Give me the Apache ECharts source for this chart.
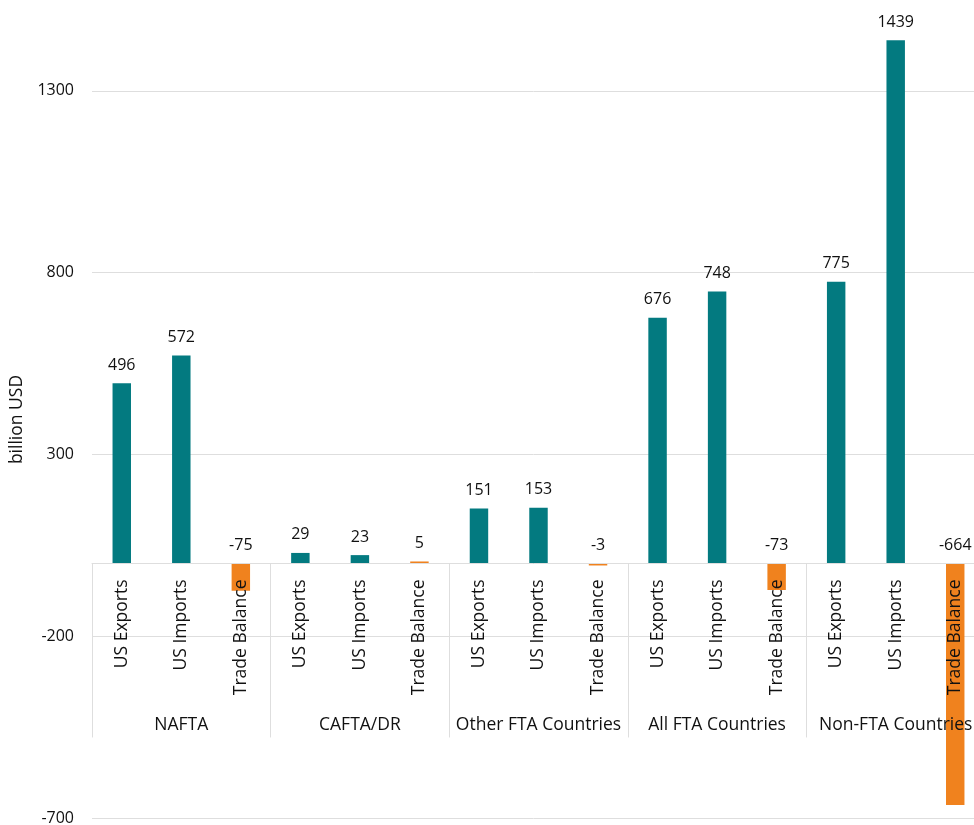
<!DOCTYPE html>
<html>
<head>
<meta charset="utf-8">
<script src="https://cdn.jsdelivr.net/npm/echarts@6/dist/echarts.min.js"></script>
<style>
html,body{margin:0;padding:0;background:#fff;}
#chart{width:974px;height:825px;}
</style>
</head>
<body>
<div id="chart"></div>
<script>
// ---- data ----
const groups = ['NAFTA', 'CAFTA/DR', 'Other FTA Countries', 'All FTA Countries', 'Non-FTA Countries'];
const measures = ['US Exports', 'US Imports', 'Trade Balance'];
const usExports = [496, 29, 151, 676, 775];
const usImports = [572, 23, 153, 748, 1439];
const tradeBalance = [-75, 5, -3, -73, -664];
const yTicks = { min: -700, max: 1800, interval: 500 };

// ---- build ----
const TEAL = '#037A80';
const ORANGE = '#F0821E';
const categories = [];
const barData = [];
groups.forEach(function (g, i) {
  const vals = [usExports[i], usImports[i], tradeBalance[i]];
  measures.forEach(function (m, j) {
    categories.push(m);
    barData.push({ value: vals[j], itemStyle: { color: j === 2 ? ORANGE : TEAL } });
  });
});

const FONT = 'Open Sans';
const TXT = '#111111';
const GRID_C = '#dedede';

// grid geometry (pixels)
const G_TOP = -91, G_BOTTOM = 7, H = 825;
const gridH = H - G_TOP - G_BOTTOM;
// offset that lifts the category axes from the grid bottom to the value-axis zero
const zeroOffset = -gridH * (0 - yTicks.min) / (yTicks.max - yTicks.min);

const chart = echarts.init(document.getElementById('chart'), null, { renderer: 'canvas' });
chart.setOption({
  animation: false,
  backgroundColor: '#ffffff',
  grid: { left: 92, right: -11, top: G_TOP, bottom: G_BOTTOM, containLabel: false, outerBoundsMode: 'none' },
  xAxis: [
    {
      type: 'category',
      data: categories,
      position: 'bottom',
      offset: zeroOffset,
      z: 10,
      axisLine: { show: true, onZero: false, lineStyle: { color: GRID_C, width: 1 } },
      axisTick: { show: false },
      axisLabel: {
        interval: 0, rotate: 90, margin: 16,
        fontFamily: FONT, fontSize: 17.5, color: TXT
      },
      splitLine: { show: false }
    },
    {
      type: 'category',
      data: groups,
      position: 'bottom',
      offset: zeroOffset,
      z: 10,
      axisLine: { show: false, onZero: false },
      axisTick: { show: true, length: 174, lineStyle: { color: GRID_C, width: 1 } },
      axisLabel: {
        interval: 0, margin: 153,
        fontFamily: FONT, fontSize: 17.5, color: TXT
      },
      splitLine: { show: false }
    }
  ],
  yAxis: {
    type: 'value',
    min: yTicks.min, max: yTicks.max, interval: yTicks.interval,
    name: 'billion USD',
    nameLocation: 'middle',
    nameGap: 64,
    nameTextStyle: { fontFamily: FONT, fontSize: 17.5, color: TXT, padding: [0, 112, 0, 0] },
    axisLine: { show: false },
    axisTick: { show: false },
    axisLabel: {
      margin: 18, fontFamily: FONT, fontSize: 16, color: TXT,
      formatter: function (v) { return String(v); }
    },
    splitLine: { show: true, lineStyle: { color: GRID_C, width: 1 } }
  },
  series: [{
    type: 'bar',
    xAxisIndex: 0,
    data: barData,
    barWidth: '31%',
    barMinHeight: 2,
    label: {
      show: true, position: 'top', distance: 10,
      fontFamily: FONT, fontSize: 16, color: TXT
    }
  }]
});
</script>
</body>
</html>
